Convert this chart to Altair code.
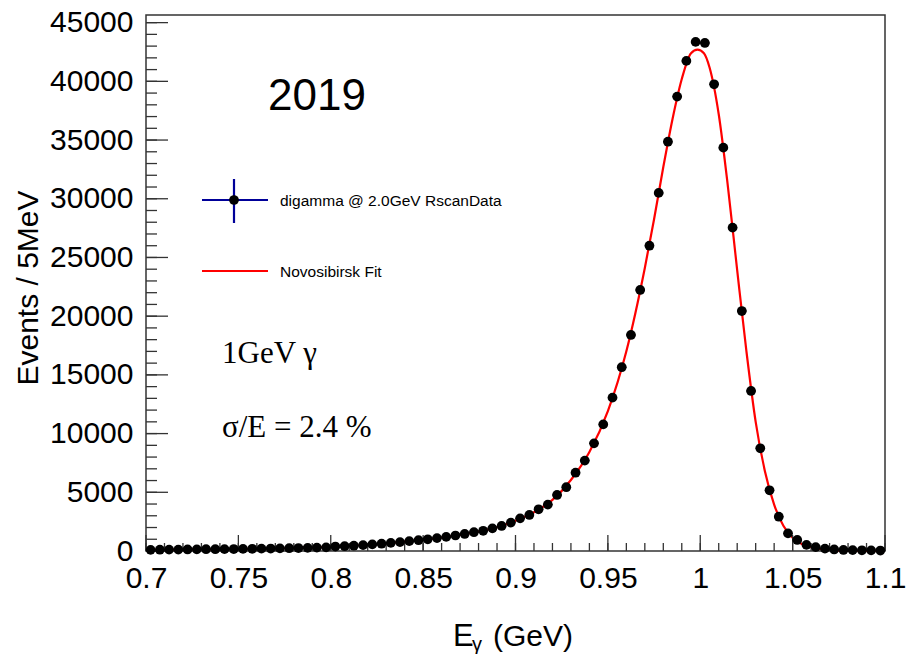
import altair as alt
import pandas as pd

# Photon energy spectrum (5 MeV bins) and Novosibirsk fit
bin_center = [round(0.7025 + 0.005 * i, 4) for i in range(80)]
events = [
    100, 110, 120, 120, 130, 140, 150, 150, 160, 170,
    180, 190, 200, 210, 220, 240, 250, 270, 290, 310,
    380, 410, 450, 500, 560, 620, 690, 760, 840, 920,
    1000, 1100, 1200, 1320, 1450, 1600, 1720, 1930, 2130, 2420,
    2780, 3070, 3550, 3950, 4770, 5430, 6670, 7700, 9170, 10780,
    13060, 15650, 18400, 22230, 26000, 30500, 34860, 38700, 41740, 43360,
    43270, 39750, 34350, 27540, 20440, 13630, 8750, 5170, 2920, 1500,
    940, 520, 330, 200, 130, 90, 70, 60, 50, 40,
]

fit_x = [0.700, 0.725, 0.750, 0.775, 0.800, 0.820, 0.840, 0.860, 0.875, 0.890,
         0.900, 0.910, 0.920, 0.930, 0.940, 0.950, 0.960, 0.970, 0.975, 0.980,
         0.985, 0.990, 0.995, 0.9985, 1.002, 1.005, 1.010, 1.015, 1.020, 1.025,
         1.030, 1.035, 1.040, 1.045, 1.050, 1.055, 1.060, 1.070, 1.080, 1.100]
fit_y = [95, 135, 175, 235, 345, 530, 800, 1150, 1520, 2020,
         2580, 3300, 4350, 6050, 8430, 11920, 17020, 24110, 28250, 32700,
         36800, 40200, 42400, 42700, 42400, 41200, 37200, 31000, 23900, 17000,
         11000, 6800, 3950, 2150, 1130, 600, 320, 90, 30, 5]

x_major = [0.7, 0.75, 0.8, 0.85, 0.9, 0.95, 1.0, 1.05, 1.1]
x_minor = [round(0.7 + 0.01 * i, 2) for i in range(41)]
y_major = [5000 * i for i in range(10)]
y_minor = [1000 * i for i in range(46)]

W, H = 739, 536
FONT = "Liberation Sans"
SERIF = "Liberation Serif"
FRAME = "#333333"

xs = alt.Scale(domain=[0.7, 1.1], nice=False, zero=False)
ys = alt.Scale(domain=[0, 45650], nice=False)

data = pd.DataFrame({"E": bin_center, "N": events})
fit = pd.DataFrame({"E": fit_x, "N": fit_y})

# one axis definition shared by every layer so the layers merge into a single axis
x_axis = alt.Axis(values=x_major, labelExpr="datum.value == 1 ? '1' : format(datum.value, '')",
                  ticks=False, domain=False, grid=False, labelFont=FONT, labelFontSize=30,
                  labelColor="black", labelPadding=12, labelFlush=False, title=None)
y_axis = alt.Axis(values=y_major, format="d", ticks=False, domain=False, grid=False,
                  labelFont=FONT, labelFontSize=30, labelColor="black", labelPadding=13,
                  title=None)


def X(field):
    return alt.X(field, scale=xs, axis=x_axis)


def Y(field):
    return alt.Y(field, scale=ys, axis=y_axis)


# fit curve
fit_line = alt.Chart(fit).mark_line(color="#ff0000", strokeWidth=2.2, interpolate="monotone").encode(
    x=X("E:Q"), y=Y("N:Q"),
)

# bin-width error bars
xerr = alt.Chart(data).transform_calculate(
    lo="datum.E - 0.0025", hi="datum.E + 0.0025"
).mark_rule(color="black", strokeWidth=1.5).encode(
    x=X("lo:Q"), x2="hi:Q", y=Y("N:Q"),
)

points = alt.Chart(data).mark_point(filled=True, color="black", size=95, opacity=1, shape="circle").encode(
    x=X("E:Q"), y=Y("N:Q"),
)


# inward tick marks
def xticks(vals, length):
    return alt.Chart(pd.DataFrame({"E": vals})).mark_rule(color=FRAME, strokeWidth=1.3).encode(
        x=X("E:Q"), y=alt.value(H), y2=alt.value(H - length))


def yticks(vals, length):
    return alt.Chart(pd.DataFrame({"N": vals})).mark_rule(color=FRAME, strokeWidth=1.3).encode(
        y=Y("N:Q"), x=alt.value(0), x2=alt.value(length))


ticks = [xticks(x_minor, 8), xticks(x_major, 16), yticks(y_minor, 11), yticks(y_major, 22)]


def label(text, x, y, size, font=FONT, align="left", angle=0, baseline="alphabetic", color="black"):
    return alt.Chart(pd.DataFrame({"s": [text]})).mark_text(
        font=font, fontSize=size, align=align, baseline=baseline, angle=angle, color=color
    ).encode(text="s:N", x=alt.value(x), y=alt.value(y))


texts = [
    label("2019", 122, 95, 44),
    label("1GeV γ", 76, 348, 31, font=SERIF),
    label("σ/E = 2.4 %", 76, 422, 31, font=SERIF),
    label("Events / 5MeV", -117, 273, 30, align="center", angle=270, baseline="middle"),
    label("E", 307, 631, 31),
    label("γ", 326, 636, 20),
    label("(GeV)", 347, 631, 30),
    label("digamma @ 2.0GeV RscanData", 134, 186, 15.5, baseline="middle"),
    label("Novosibirsk Fit", 134, 257, 15.5, baseline="middle"),
]

# legend glyphs
leg_h = alt.Chart(pd.DataFrame({"k": [0]})).mark_rule(color="#000099", strokeWidth=2.2).encode(
    x=alt.value(56), x2=alt.value(122), y=alt.value(185))
leg_v = alt.Chart(pd.DataFrame({"k": [0]})).mark_rule(color="#000099", strokeWidth=2.2).encode(
    x=alt.value(88), y=alt.value(164), y2=alt.value(208))
leg_pt = alt.Chart(pd.DataFrame({"k": [0]})).mark_point(filled=True, color="black", size=95, opacity=1).encode(
    x=alt.value(88), y=alt.value(185))
leg_fit = alt.Chart(pd.DataFrame({"k": [0]})).mark_rule(color="#ff0000", strokeWidth=2.2).encode(
    x=alt.value(56), x2=alt.value(122), y=alt.value(256))

chart = alt.layer(
    fit_line, *ticks, xerr, points, leg_h, leg_v, leg_pt, leg_fit, *texts
).properties(
    width=W, height=H,
    autosize=alt.AutoSizeParams(type="none"),
    padding={"left": 146, "top": 15, "right": 25, "bottom": 103},
    background="white",
).configure_view(stroke=FRAME, strokeWidth=1.5)

chart.save("out.html", embed_options={"renderer": "svg", "actions": False})
